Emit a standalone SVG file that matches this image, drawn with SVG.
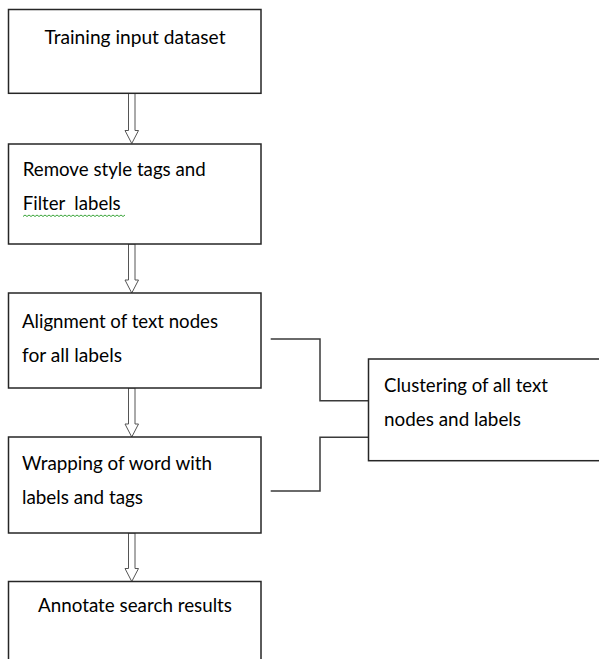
<svg xmlns="http://www.w3.org/2000/svg" width="599" height="659" viewBox="0 0 599 659">
<defs>
<style>
.box{fill:#fff;stroke:#262626;stroke-width:1.5}
.t{font-family:Lato,"Open Sans","Liberation Sans",sans-serif;font-size:19.5px;fill:#000}
.arrow{fill:#fff;stroke:#555;stroke-width:1}
.conn{fill:none;stroke:#3a3a3a;stroke-width:1.5}
.wavy{fill:none;stroke:#3aa53a;stroke-width:1}
</style>
</defs>
<rect width="599" height="659" fill="#fff"/>
<g id="connectors">
<polygon class="arrow" points="128.5,93.5 135,93.5 135,130.5 138.5,130.5 131.75,143.5 125,130.5 128.5,130.5"/>
<polygon class="arrow" points="128.5,244 135,244 135,280 138.5,280 131.75,293 125,280 128.5,280"/>
<polygon class="arrow" points="128.5,388 135,388 135,424 138.5,424 131.75,437 125,424 128.5,424"/>
<polygon class="arrow" points="128.5,533 135,533 135,568.5 138.5,568.5 131.75,581.5 125,568.5 128.5,568.5"/>
<path class="conn" d="M270.7,339 H320 V400.7 H368.5"/>
<path class="conn" d="M270.7,491 H320 V437.3 H368.5"/>
</g>
<g id="n1">
<rect class="box" x="8.5" y="9.5" width="252.5" height="83.8"/>
<text class="t" x="135" y="44" text-anchor="middle" textLength="181" lengthAdjust="spacingAndGlyphs">Training input dataset</text>
</g>
<g id="n2">
<rect class="box" x="8.5" y="144" width="252.5" height="100"/>
<text class="t" x="22.7" y="176" textLength="183" lengthAdjust="spacingAndGlyphs">Remove style tags and</text>
<text class="t" x="22.7" y="210" textLength="98" lengthAdjust="spacingAndGlyphs" xml:space="preserve" style="white-space:pre">Filter  labels</text>
<path class="wavy" d="M23,216.5 l2,-1.5 l2,1.5 l2,-1.5 l2,1.5 l2,-1.5 l2,1.5 l2,-1.5 l2,1.5 l2,-1.5 l2,1.5 l2,-1.5 l2,1.5 l2,-1.5 l2,1.5 l2,-1.5 l2,1.5 l2,-1.5 l2,1.5 l2,-1.5 l2,1.5 l2,-1.5 l2,1.5 l2,-1.5 l2,1.5 l2,-1.5 l2,1.5 l2,-1.5 l2,1.5 l2,-1.5 l2,1.5 l2,-1.5 l2,1.5 l2,-1.5 l2,1.5 l2,-1.5 l2,1.5 l2,-1.5 l2,1.5 l2,-1.5 l2,1.5 l2,-1.5 l2,1.5 l2,-1.5 l2,1.5 l2,-1.5 l2,1.5 l2,-1.5 l2,1.5 l2,-1.5 l2,1.5 l2,-1.5"/>
</g>
<g id="n3">
<rect class="box" x="8.5" y="293" width="252.5" height="95"/>
<text class="t" x="22" y="328" textLength="196" lengthAdjust="spacingAndGlyphs">Alignment of text nodes</text>
<text class="t" x="22" y="362" textLength="100" lengthAdjust="spacingAndGlyphs">for all labels</text>
</g>
<g id="n4">
<rect class="box" x="8.5" y="437" width="252.5" height="96"/>
<text class="t" x="22" y="470" textLength="190" lengthAdjust="spacingAndGlyphs">Wrapping of word with</text>
<text class="t" x="22" y="504" textLength="121" lengthAdjust="spacingAndGlyphs">labels and tags</text>
</g>
<g id="n5">
<rect class="box" x="8.5" y="581.5" width="252.5" height="100"/>
<text class="t" x="135" y="612" text-anchor="middle" textLength="194" lengthAdjust="spacingAndGlyphs">Annotate search results</text>
</g>
<g id="n6">
<rect class="box" x="368.5" y="359" width="260" height="101.7"/>
<text class="t" x="384" y="392" textLength="164" lengthAdjust="spacingAndGlyphs">Clustering of all text</text>
<text class="t" x="384" y="426" textLength="137" lengthAdjust="spacingAndGlyphs">nodes and labels</text>
</g>
</svg>
